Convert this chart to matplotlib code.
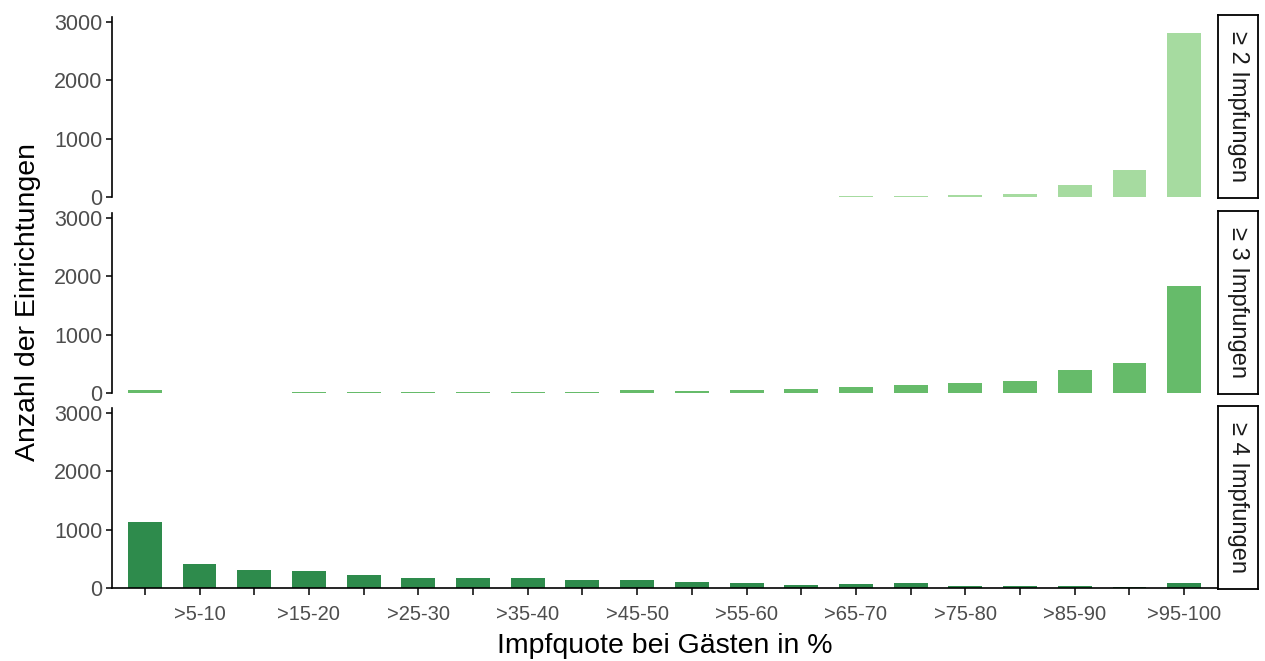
import numpy as np
import matplotlib.pyplot as plt

plt.rcParams['font.family'] = ['Liberation Sans', 'DejaVu Sans']

categories = ["0-5", ">5-10", ">10-15", ">15-20", ">20-25", ">25-30", ">30-35",
              ">35-40", ">40-45", ">45-50", ">50-55", ">55-60", ">60-65",
              ">65-70", ">70-75", ">75-80", ">80-85", ">85-90", ">90-95",
              ">95-100"]

panel_names = ["≥ 2 Impfungen", "≥ 3 Impfungen", "≥ 4 Impfungen"]
panel_colors = ["#a6dba0", "#66bb6a", "#2e8b4c"]

dose2 = [0, 0, 0, 0, 0, 0, 0, 0, 0, 0, 0, 3, 5, 10, 20, 30, 60, 210, 460, 2820]
dose3 = [50, 0, 0, 15, 10, 15, 20, 20, 20, 55, 40, 50, 70, 100, 140, 170, 205,
         395, 515, 1835]
dose4 = [1130, 410, 310, 290, 225, 175, 170, 165, 130, 140, 95, 90, 50, 70, 80,
         40, 35, 35, 15, 80]
series = [dose2, dose3, dose4]

W, H = 1265, 661
fig = plt.figure(figsize=(W / 100, H / 100), dpi=100)

left, right = 112, 1217
tops = [17, 213, 408]
bottoms = [197, 393, 588]
x = np.arange(len(categories))

for i, (vals, name, col) in enumerate(zip(series, panel_names, panel_colors)):
    ax = fig.add_axes([left / W, 1 - bottoms[i] / H, (right - left) / W,
                       (bottoms[i] - tops[i]) / H])
    ax.bar(x, vals, width=0.62, color=col)
    ax.set_xlim(-0.6, len(categories) - 0.4)
    ax.set_ylim(0, 3086)
    ax.set_yticks([0, 1000, 2000, 3000])
    for s in ["top", "right"]:
        ax.spines[s].set_visible(False)
    ax.spines["left"].set_linewidth(1.2)
    ax.tick_params(axis="y", length=4, width=1.1, labelsize=15.5,
                   labelcolor="#4d4d4d", pad=3)
    if i < 2:
        ax.spines["bottom"].set_visible(False)
        ax.set_xticks([])
    else:
        ax.spines["bottom"].set_linewidth(1.2)
        ax.set_xticks(x)
        ax.set_xticklabels([c if k % 2 == 1 else "" for k, c in enumerate(categories)])
        ax.tick_params(axis="x", length=5, width=1.1, labelsize=14.5,
                       labelcolor="#4d4d4d", pad=7)
        ax.set_xlabel("Impfquote bei Gästen in %", fontsize=20.5, labelpad=7)

    # facet strip on the right
    sx = fig.add_axes([(right + 1) / W, 1 - (bottoms[i] + 1) / H, 40 / W,
                       (bottoms[i] - tops[i] + 3) / H])
    sx.set_xticks([])
    sx.set_yticks([])
    for s in sx.spines.values():
        s.set_linewidth(1.3)
    sx.text(0.5, 0.5, name, rotation=270, ha="center", va="center",
            fontsize=17, color="#1a1a1a", transform=sx.transAxes)

fig.text(28 / W, 1 - 302 / H, "Anzahl der Einrichtungen", rotation=90,
         ha="center", va="center", fontsize=20.5)

fig.savefig("out.png", dpi=100)
